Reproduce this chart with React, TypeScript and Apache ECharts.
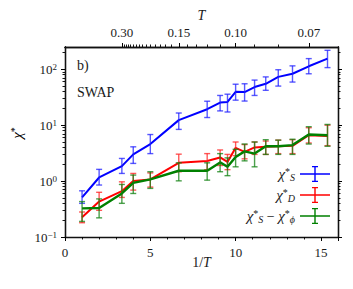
import React, { useEffect, useRef } from "react";
import * as echarts from "echarts";

// 1/T positions of the measurements
const invT = [1, 2, 3.333, 4, 5, 6.667, 8.333, 9.091, 9.524, 10, 10.526, 11.111, 11.765, 12.5, 13.333, 14.286, 15.385];

// chi*_S (blue)
const chiS = [0.51, 1.16, 1.85, 3.0, 4.6, 12.3, 19.3, 25.4, 26, 39.4, 39, 48, 55, 73, 83, 113, 155];
const chiSLow = [0.40, 0.85, 1.37, 2.07, 3.1, 8.4, 13.7, 18, 17.2, 28, 27, 34, 42, 50, 59, 83, 107];
const chiSHigh = [0.67, 1.62, 2.54, 4.1, 6.8, 16.5, 26.8, 34, 35.8, 54, 55, 64, 73, 98, 115, 155, 218];

// chi*_D (red)
const chiD = [0.225, 0.43, 0.66, 1.0, 1.07, 2.12, 2.28, 2.65, 2.2, 3.93, 3.34, 4.0, 4.1, 4.2, 4.27, 6.6, 6.4];
const chiDLow = [0.18, 0.30, 0.51, 0.69, 0.78, 1.47, 1.6, 1.9, 1.6, 2.85, 2.5, 3.0, 3.0, 3.1, 3.1, 4.8, 4.3];
const chiDHigh = [0.28, 0.63, 0.97, 1.37, 1.40, 3.03, 3.1, 3.6, 3.0, 5.0, 4.5, 5.0, 5.2, 5.4, 5.5, 9.0, 10.0];

// chi*_S - chi*_phi (green)
const chiDiff = [0.325, 0.33, 0.60, 0.93, 1.07, 1.53, 1.53, 2.16, 1.8, 2.7, 3.4, 3.1, 4.2, 4.2, 4.4, 6.8, 6.6];
const chiDiffLow = [0.19, 0.22, 0.40, 0.60, 0.74, 1.01, 1.04, 1.47, 1.25, 1.8, 2.3, 1.8, 3.0, 3.0, 3.0, 4.6, 4.2];
const chiDiffHigh = [0.43, 0.48, 0.87, 1.28, 1.47, 2.12, 2.12, 3.1, 2.6, 3.7, 4.6, 5.0, 5.5, 5.4, 5.6, 9.4, 10.3];

// top axis (T) ticks
const topTickT = [0.3, 0.15, 0.1, 0.07];
const topMinorT = [0.29, 0.28, 0.27, 0.26, 0.25, 0.24, 0.23, 0.22, 0.21, 0.2, 0.19, 0.18, 0.17, 0.16, 0.14, 0.13, 0.12, 0.11, 0.09, 0.08];

// y axis ticks
const yMajor = [0.1, 1, 10, 100];
const yMinor = [0.2, 0.3, 0.4, 0.5, 0.6, 0.7, 0.8, 0.9, 2, 3, 4, 5, 6, 7, 8, 9, 20, 30, 40, 50, 60, 70, 80, 90, 200];

const FONT = "'Liberation Serif', 'DejaVu Serif', serif";
const TXT = "#1a1a1a";

const richMath = {
  c: { fontFamily: FONT, fontSize: 15, fontStyle: "italic", lineHeight: 16, color: TXT },
  n: { fontFamily: FONT, fontSize: 14, lineHeight: 16, color: TXT },
  sup: { fontFamily: FONT, fontSize: 10, lineHeight: 9, verticalAlign: "top", color: TXT },
  sub: { fontFamily: FONT, fontSize: 10, fontStyle: "italic", lineHeight: 9, verticalAlign: "bottom", color: TXT },
};

function errSeries(name: string, low: number[], high: number[], color: string, z: number) {
  return {
    type: "custom",
    name,
    silent: true,
    z,
    xAxisIndex: 0,
    yAxisIndex: 0,
    data: invT.map((x, i) => [x, low[i], high[i]]),
    encode: { x: 0, y: [1, 2] },
    renderItem: (params: any, api: any) => {
      const x = api.value(0);
      const p1 = api.coord([x, api.value(1)]);
      const p2 = api.coord([x, api.value(2)]);
      const hw = 3;
      const st = { stroke: color, lineWidth: 1.4, opacity: 0.75 };
      return {
        type: "group",
        children: [
          { type: "line", shape: { x1: p1[0], y1: p1[1], x2: p2[0], y2: p2[1] }, style: st },
          { type: "line", shape: { x1: p1[0] - hw, y1: p1[1], x2: p1[0] + hw, y2: p1[1] }, style: st },
          { type: "line", shape: { x1: p2[0] - hw, y1: p2[1], x2: p2[0] + hw, y2: p2[1] }, style: st },
        ],
      };
    },
  };
}

function lineSeries(name: string, vals: number[], color: string, width: number, z: number) {
  return {
    type: "line",
    name,
    xAxisIndex: 0,
    yAxisIndex: 0,
    z,
    showSymbol: false,
    color,
    lineStyle: { color, width },
    data: invT.map((x, i) => [x, vals[i]]),
  };
}

const ICON =
  "path://M0,7.2 H30 V8.8 H0 Z M14.3,0 H15.7 V16 H14.3 Z M12,0 H18 V1.3 H12 Z M12,14.7 H18 V16 H12 Z";

const legendLabels: Record<string, string> = {
  S: "{c|χ}{sup|*}{sub|S}",
  D: "{c|χ}{sup|*}{sub|D}",
  Diff: "{c|χ}{sup|*}{sub|S}{n| − }{c|χ}{sup|*}{sub|ϕ}",
};

const axisLineStyle = { color: "#111", width: 1.3 };
const majorTickStyle = { color: "#000", width: 1 };
const minorTickStyle = { color: "#000", width: 0.9 };

function logY(position: string, ticks: number[], len: number, style: any) {
  return {
    type: "log",
    logBase: 10,
    position,
    min: 0.1,
    max: 250,
    axisLine: { show: true, onZero: false, lineStyle: axisLineStyle },
    axisTick: { show: true, length: len, customValues: ticks, lineStyle: style },
    axisLabel: { show: false },
    splitLine: { show: false },
  };
}

export default function App() {
  const ref = useRef<HTMLDivElement>(null);
  useEffect(() => {
    if (!ref.current) return;
    const chart = echarts.init(ref.current, null, { renderer: "svg" });
    const supFmt = (v: number) => {
      const e = Math.round(Math.log10(v));
      return "10{sup|" + (e < 0 ? "−" + -e : e) + "}";
    };
    chart.setOption({
      animation: false,
      grid: { left: 65, right: 15, top: 47, bottom: 52 },
      xAxis: [
        {
          type: "value",
          position: "bottom",
          min: 0,
          max: 16,
          interval: 5,
          axisLine: { show: true, onZero: false, lineStyle: axisLineStyle },
          axisTick: { show: true, length: 4, lineStyle: majorTickStyle },
          minorTick: { show: true, splitNumber: 5, length: 2.5, lineStyle: minorTickStyle },
          splitLine: { show: false },
          axisLabel: { margin: 9, fontFamily: FONT, fontSize: 13, color: TXT, showMaxLabel: false },
          name: "1/{i|T}",
          nameLocation: "middle",
          nameGap: 18,
          nameMoveOverlap: false,
          nameTextStyle: {
            fontFamily: FONT,
            fontSize: 14,
            color: TXT,
            rich: { i: { fontFamily: FONT, fontSize: 14, fontStyle: "italic", color: TXT } },
          },
        },
        {
          type: "value",
          position: "top",
          min: 0,
          max: 16,
          axisLine: { show: true, onZero: false, lineStyle: axisLineStyle },
          axisTick: {
            show: true,
            length: 4,
            customValues: topTickT.map((t) => 1 / t),
            lineStyle: majorTickStyle,
          },
          axisLabel: {
            margin: 8,
            customValues: topTickT.map((t) => 1 / t),
            formatter: (v: number) => (1 / v).toFixed(2),
            fontFamily: FONT,
            fontSize: 13,
            color: TXT,
          },
          splitLine: { show: false },
          name: "T",
          nameLocation: "middle",
          nameGap: 25,
          nameMoveOverlap: false,
          nameTextStyle: { fontFamily: FONT, fontSize: 14, fontStyle: "italic", color: TXT },
        },
        {
          type: "value",
          position: "top",
          min: 0,
          max: 16,
          axisLine: { show: true, onZero: false, lineStyle: axisLineStyle },
          axisTick: {
            show: true,
            length: 2.5,
            customValues: topMinorT.map((t) => 1 / t),
            lineStyle: minorTickStyle,
          },
          axisLabel: { show: false },
          splitLine: { show: false },
        },
      ],
      yAxis: [
        {
          type: "log",
          logBase: 10,
          position: "left",
          min: 0.1,
          max: 250,
          axisLine: { show: true, onZero: false, lineStyle: axisLineStyle },
          axisTick: { show: true, length: 4, customValues: yMajor, lineStyle: majorTickStyle },
          axisLabel: {
            margin: 8,
            customValues: yMajor,
            formatter: supFmt,
            fontFamily: FONT,
            fontSize: 13,
            color: TXT,
            rich: {
              sup: { fontFamily: FONT, fontSize: 9, lineHeight: 8, verticalAlign: "top", color: TXT },
            },
          },
          splitLine: { show: false },
        },
        logY("right", yMajor, 4, majorTickStyle),
        logY("left", yMinor, 2.5, minorTickStyle),
        logY("right", yMinor, 2.5, minorTickStyle),
      ],
      legend: {
        orient: "vertical",
        right: 23,
        top: 166,
        padding: 0,
        itemWidth: 30,
        itemHeight: 16,
        itemGap: 5,
        align: "right",
        data: [
          { name: "S", icon: ICON },
          { name: "D", icon: ICON },
          { name: "Diff", icon: ICON },
        ],
        formatter: (name: string) => legendLabels[name],
        textStyle: { fontFamily: FONT, fontSize: 14, color: TXT, rich: richMath },
      },
      graphic: [
        {
          type: "text",
          left: 77,
          top: 58,
          style: { text: "b)", fontFamily: FONT, fontSize: 14, fill: TXT },
        },
        {
          type: "text",
          left: 77,
          top: 85,
          style: { text: "SWAP", fontFamily: FONT, fontSize: 14, fill: TXT },
        },
        {
          type: "text",
          x: 17,
          y: 133,
          rotation: Math.PI / 2,
          style: {
            text: "{c|χ}{sup|*}",
            align: "center",
            verticalAlign: "middle",
            rich: richMath,
          },
        },
      ],
      series: [
        lineSeries("S", chiS, "#0000ff", 2, 2),
        errSeries("S_err", chiSLow, chiSHigh, "#2020ff", 3),
        lineSeries("D", chiD, "#ff0000", 2, 4),
        errSeries("D_err", chiDLow, chiDHigh, "#ff2020", 5),
        lineSeries("Diff", chiDiff, "#008000", 2.4, 6),
        errSeries("Diff_err", chiDiffLow, chiDiffHigh, "#108010", 7),
      ],
    });
    return () => chart.dispose();
  }, []);
  return <div ref={ref} style={{ width: 353, height: 289, margin: -8 }} />;
}
